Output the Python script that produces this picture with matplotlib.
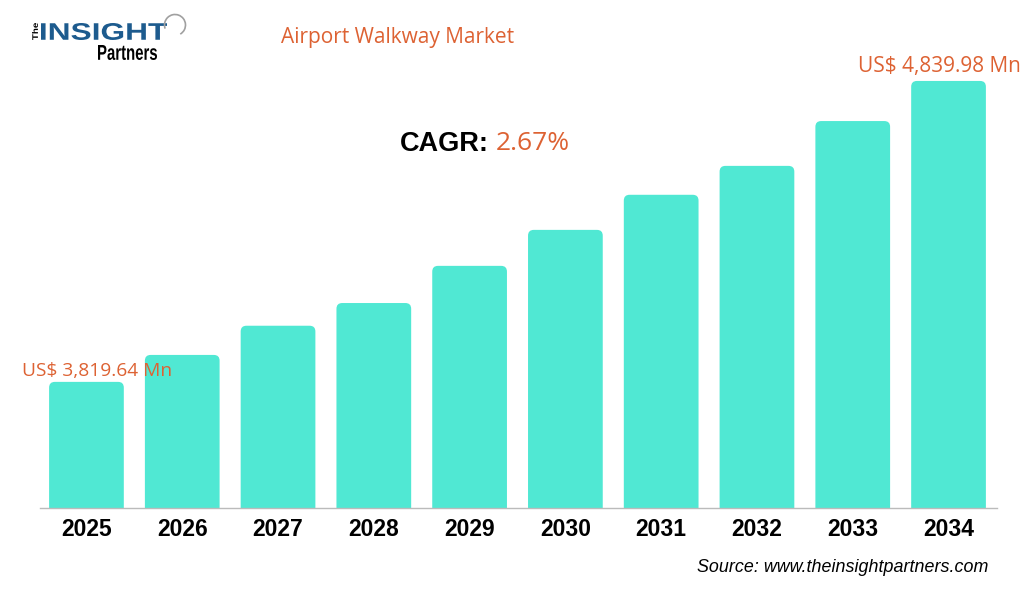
import numpy as np
import matplotlib.pyplot as plt
from matplotlib.patches import FancyBboxPatch, Arc, PathPatch
from matplotlib.textpath import TextPath
from matplotlib.font_manager import FontProperties
from matplotlib.transforms import Affine2D

years = ['2025', '2026', '2027', '2028', '2029', '2030', '2031', '2032', '2033', '2034']
values = [3819.64, 3911, 4010, 4087, 4213, 4335, 4454, 4552, 4704, 4839.98]
title = 'Airport Walkway Market'
cagr = '2.67%'
first_label = 'US$ 3,819.64 Mn'
last_label = 'US$ 4,839.98 Mn'
source = 'Source: www.theinsightpartners.com'

bar_color = '#50E8D3'
orange = '#DD6233'
logo_blue = '#1D5B8E'

W, H = 1027, 591
fig = plt.figure(figsize=(W / 100, H / 100), dpi=100)
fig.patch.set_facecolor('white')

# axes placed in pixel terms: left 40, right 997, baseline at y=508
ax = fig.add_axes([40 / W, (H - 508) / H, (997 - 40) / W, (508 - 60) / H])
x = np.arange(len(years))
bars = ax.bar(x, values, width=0.78, color=bar_color)
ax.set_xlim(-0.485, 9.506)
ax.set_ylim(3392, 4911)

# swap plain bars for ones with rounded top corners
for b in bars:
    bx, by, bw, bh = b.get_x(), b.get_y(), b.get_width(), b.get_height()
    b.remove()
    p = FancyBboxPatch((bx, by - 100), bw, bh + 100,
                       boxstyle='round,pad=0,rounding_size=0.06',
                       mutation_aspect=325, facecolor=bar_color,
                       edgecolor='none')
    ax.add_patch(p)

for s in ['top', 'right', 'left']:
    ax.spines[s].set_visible(False)
ax.spines['bottom'].set_color('#BBBBBB')
ax.spines['bottom'].set_linewidth(1)
ax.set_yticks([])
ax.set_xticks(x)
ax.set_xticklabels(years, fontsize=16.5, fontweight='bold', family='Liberation Sans')
ax.tick_params(axis='x', length=0, pad=7)

# value labels on first and last bars
ax.annotate(first_label, (x[0], values[0]), xytext=(-64, 2), textcoords='offset pixels',
            ha='left', va='bottom', fontsize=13.8, color=orange, family='Open Sans')
ax.annotate(last_label, (x[-1], values[-1]), xytext=(72, 4), textcoords='offset pixels',
            ha='right', va='bottom', fontsize=15, color=orange, family='Open Sans')

# title and CAGR
fig.text(398 / W, 1 - 38 / H, title, ha='center', va='center', fontsize=15,
         color=orange, family='Open Sans')
fig.text(400 / W, 1 - 144 / H, 'CAGR:', ha='left', va='center', fontsize=19.5,
         fontweight='bold', color='black', family='Liberation Sans')
fig.text(496 / W, 1 - 143 / H, cagr, ha='left', va='center', fontsize=19,
         color=orange, family='Open Sans')

fig.text(988 / W, 1 - 568 / H, source, ha='right', va='center', fontsize=12.9,
         style='italic', color='black', family='Liberation Sans')

# logo, drawn as text paths fitted into pixel boxes (y measured from top)
logo_ax = fig.add_axes([0, 0, 1, 1], facecolor='none')
logo_ax.set_xlim(0, W)
logo_ax.set_ylim(0, H)
logo_ax.axis('off')
bold = FontProperties(family='Liberation Sans', weight='bold')


def fit_text(s, x0, x1, ytop, ybot, color, rot=False):
    tp = TextPath((0, 0), s, size=10, prop=bold)
    bb = tp.get_extents()
    if rot:
        t = (Affine2D().translate(-bb.x0, -bb.y0)
             .scale((ybot - ytop) / bb.width, (x1 - x0) / bb.height)
             .rotate_deg(90).translate(x1, H - ybot))
    else:
        t = (Affine2D().translate(-bb.x0, -bb.y0)
             .scale((x1 - x0) / bb.width, (ybot - ytop) / bb.height)
             .translate(x0, H - ybot))
    logo_ax.add_patch(PathPatch(t.transform_path(tp), facecolor=color,
                                edgecolor='none'))


fit_text('The', 32, 38, 23, 40, 'black', rot=True)
fit_text('INSIGHT', 41, 167, 23, 40, logo_blue)
fit_text('Partners', 98, 157, 45, 60, 'black')
logo_ax.add_patch(Arc((175, H - 25), 21, 21, theta1=-60, theta2=200,
                      color='#A0A0A0', lw=1.2))

fig.savefig('out.png', dpi=100, facecolor='white')
